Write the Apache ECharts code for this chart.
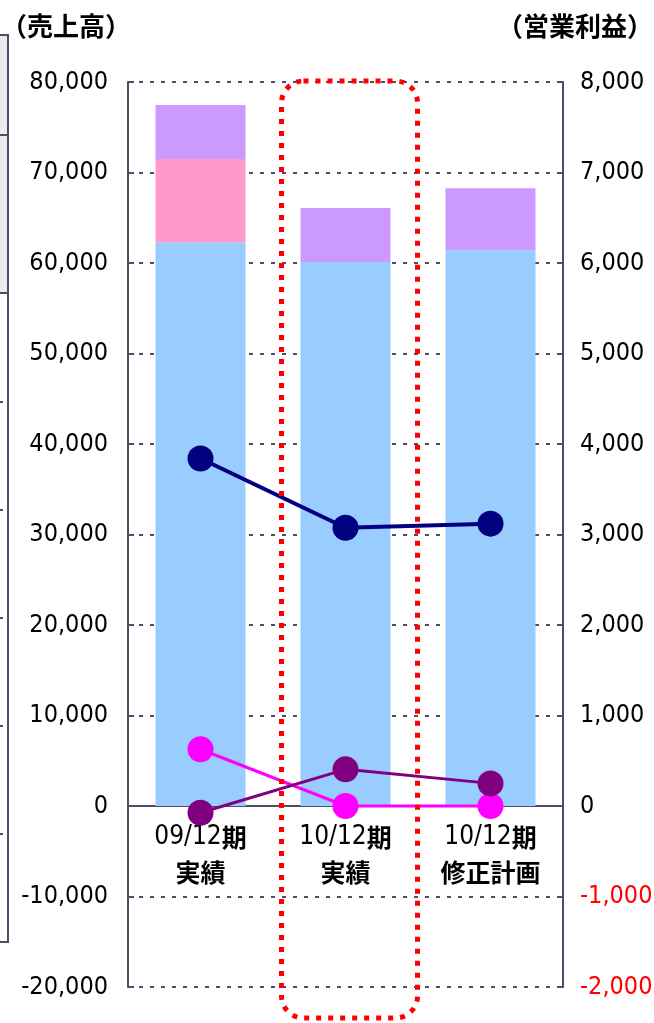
<!DOCTYPE html>
<html><head><meta charset="utf-8">
<script src="https://cdn.jsdelivr.net/npm/echarts@6/dist/echarts.min.js"></script>
<style>html,body{margin:0;padding:0;background:#fff}#c{width:654px;height:1023px}</style>
</head><body><div id="c"></div>
<script>
const categories = ['09/12期\n実績', '10/12期\n実績', '10/12期\n修正計画'];
const salesBlue = [62300, 60100, 61400];
const salesPink = [9200, 0, 0];
const salesPurple = [5950, 5970, 6850];
const profitNavy = [3840, 3075, 3120];
const profitMagenta = [627, 0, 0];
const profitPurple = [-74, 405, 250];
const leftTitle = '（売上高）';
const rightTitle = '（営業利益）';

const axisColor = '#4d4d66';
const numFont = "'Liberation Sans Narrow','DejaVu Sans Condensed','Liberation Sans',sans-serif";
const cjkFont = "'Noto Sans CJK JP',sans-serif";
const fmt = v => v.toLocaleString('en-US');

const chart = echarts.init(document.getElementById('c'), null, {renderer: 'canvas'});
const option = {
  animation: false,
  grid: {left: 128, right: 91, top: 82, bottom: 36, containLabel: false, outerBoundsMode: 'none'},
  title: [
    {text: leftTitle, left: -4, top: 8, textStyle: {fontFamily: cjkFont, fontSize: 26, fontWeight: 'bold', color: '#000'}},
    {text: rightTitle, right: -4, top: 8, textStyle: {fontFamily: cjkFont, fontSize: 26, fontWeight: 'bold', color: '#000'}}
  ],
  xAxis: {
    type: 'category', data: categories,
    axisLine: {onZero: false, lineStyle: {color: axisColor, width: 2}},
    axisTick: {inside: true, length: 6, lineStyle: {color: axisColor, width: 1}},
    axisLabel: {interval: 0, hideOverlap: false, margin: 14, color: '#000', fontFamily: cjkFont, fontSize: 24, fontWeight: 'bold', lineHeight: 35,
      formatter: v => v.split('\n').map((s, i) => i === 0 ? '{n|' + s.replace('期', '') + '}{c|期}' : '{c|' + s + '}').join('\n'),
      rich: {
        n: {fontFamily: numFont, fontSize: 26, fontWeight: 'normal', color: '#000', lineHeight: 35},
        c: {fontFamily: cjkFont, fontSize: 25, fontWeight: 'bold', color: '#000', lineHeight: 35}
      }},
    splitLine: {show: false}
  },
  yAxis: [
    {type: 'value', min: -20000, max: 80000, interval: 10000,
      axisLine: {show: true, lineStyle: {color: axisColor, width: 2}},
      axisTick: {show: true, inside: true, length: 6, lineStyle: {color: axisColor, width: 2}},
      axisLabel: {margin: 20, color: '#000', fontFamily: numFont, fontSize: 25, formatter: fmt},
      splitLine: {show: true, lineStyle: {color: axisColor, width: 2, type: [4, 7]}}
    },
    {type: 'value', min: -2000, max: 8000, interval: 1000,
      axisLine: {show: true, lineStyle: {color: axisColor, width: 2}},
      axisTick: {show: true, inside: true, length: 6, lineStyle: {color: axisColor, width: 2}},
      axisLabel: {margin: 17, fontFamily: numFont, fontSize: 25, formatter: fmt,
        color: v => (Number(v) < 0 ? '#ff0000' : '#000')},
      splitLine: {show: false}
    }
  ],
  series: [
    {type: 'bar', stack: 's', data: salesBlue, barWidth: 90, itemStyle: {color: '#99ccff'}, yAxisIndex: 0},
    {type: 'bar', stack: 's', data: salesPink, barWidth: 90, itemStyle: {color: '#ff99cc'}, yAxisIndex: 0},
    {type: 'bar', stack: 's', data: salesPurple, barWidth: 90, itemStyle: {color: '#cc99ff'}, yAxisIndex: 0},
    {type: 'line', yAxisIndex: 1, data: profitMagenta, symbol: 'circle', symbolSize: 26,
      lineStyle: {color: '#ff00ff', width: 3}, itemStyle: {color: '#ff00ff'}, z: 5},
    {type: 'line', yAxisIndex: 1, data: profitPurple, symbol: 'circle', symbolSize: 26,
      lineStyle: {color: '#800080', width: 3}, itemStyle: {color: '#800080'}, z: 6},
    {type: 'line', yAxisIndex: 1, data: profitNavy, symbol: 'circle', symbolSize: 26,
      lineStyle: {color: '#000080', width: 4}, itemStyle: {color: '#000080'}, z: 7}
  ]
};
chart.setOption(option);

// move the category axis up to the zero line of the left value axis
const yTop = chart.convertToPixel({yAxisIndex: 0}, 80000);
const yBot = chart.convertToPixel({yAxisIndex: 0}, -20000);
const yZero = chart.convertToPixel({yAxisIndex: 0}, 0);
chart.setOption({xAxis: {offset: -(yBot - yZero)}});

// annotation: red dotted rounded box around the 2nd category, plus stray panel at left edge
const cx = chart.convertToPixel({xAxisIndex: 0}, categories[1]);
chart.setOption({
  graphic: [
    {type: 'rect', shape: {x: cx - 64, y: yTop - 1, width: 136, height: yBot - yTop + 32, r: 22},
      style: {fill: 'none', stroke: '#ff0000', lineWidth: 5, lineDash: [5, 7]}, z: 100},
    {type: 'rect', shape: {x: -2, y: 35, width: 10, height: 258}, style: {fill: '#ebebeb', stroke: null}, z: 1},
    {type: 'polyline', shape: {points: [[0, 35], [8, 35], [8, 942], [0, 942]]}, style: {stroke: axisColor, lineWidth: 2, fill: null}, z: 2},
    {type: 'line', shape: {x1: 0, y1: 135, x2: 8, y2: 135}, style: {stroke: axisColor, lineWidth: 2}, z: 2},
    {type: 'line', shape: {x1: 0, y1: 293, x2: 8, y2: 293}, style: {stroke: axisColor, lineWidth: 2}, z: 2},
    {type: 'line', shape: {x1: 0, y1: 402, x2: 7, y2: 402}, style: {stroke: axisColor, lineWidth: 2, lineDash: [3, 4]}, z: 2},
    {type: 'line', shape: {x1: 0, y1: 510, x2: 7, y2: 510}, style: {stroke: axisColor, lineWidth: 2, lineDash: [3, 4]}, z: 2},
    {type: 'line', shape: {x1: 0, y1: 618, x2: 7, y2: 618}, style: {stroke: axisColor, lineWidth: 2, lineDash: [3, 4]}, z: 2},
    {type: 'line', shape: {x1: 0, y1: 726, x2: 7, y2: 726}, style: {stroke: axisColor, lineWidth: 2, lineDash: [3, 4]}, z: 2},
    {type: 'line', shape: {x1: 0, y1: 834, x2: 7, y2: 834}, style: {stroke: axisColor, lineWidth: 2, lineDash: [3, 4]}, z: 2}
  ]
});
</script></body></html>
